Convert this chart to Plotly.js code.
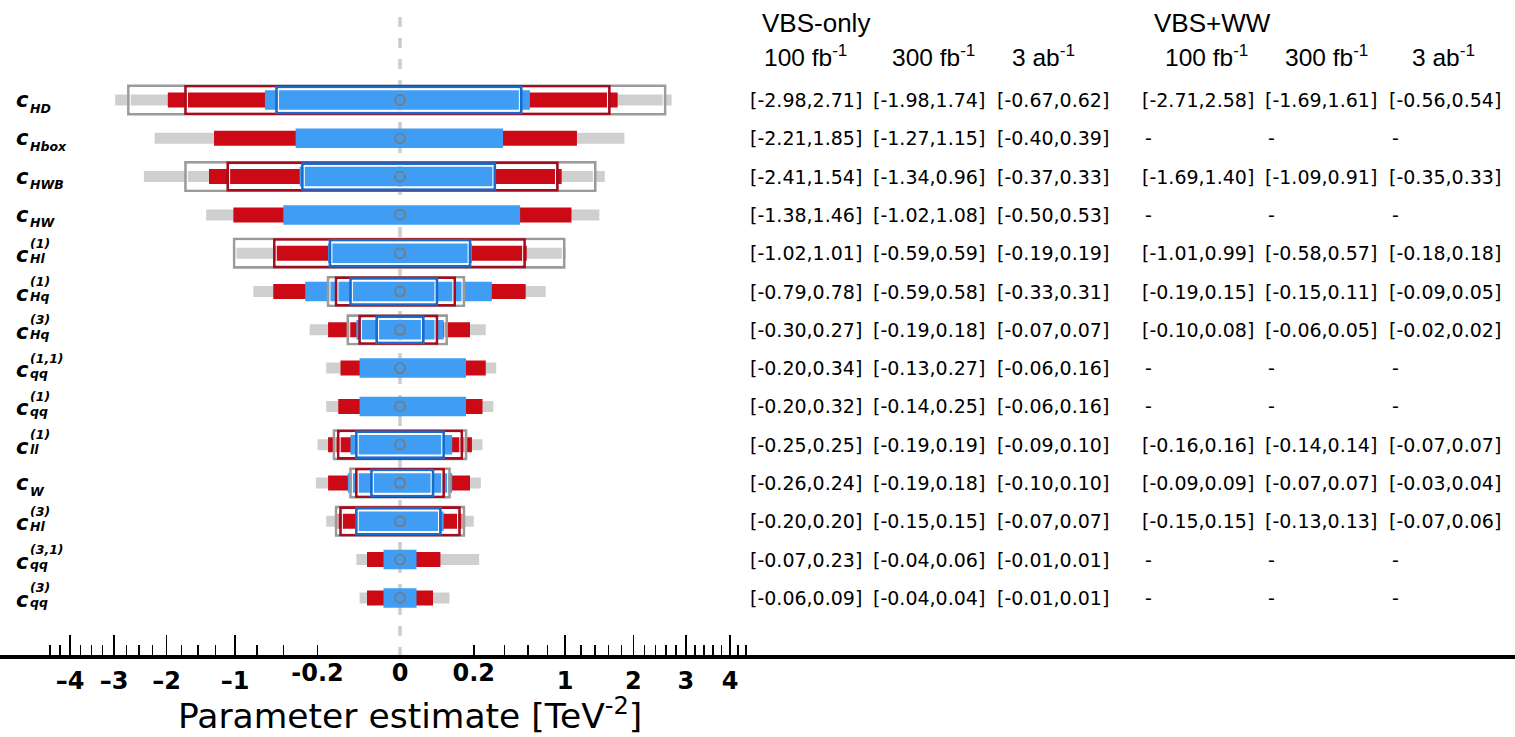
<!DOCTYPE html>
<html><head><meta charset="utf-8">
<script src="https://cdn.plot.ly/plotly-3.0.1.min.js"></script>
<style>html,body{margin:0;padding:0;background:#fff}#chart{width:1515px;height:737px}</style>
</head><body><div id="chart"></div>
<script>
// ---- data ----
const coefSub = ['HD','Hbox','HWB','HW','Hl','Hq','Hq','qq','qq','ll','W','Hl','qq','qq'];
const coefSup = ['','','','','(1)','(1)','(3)','(1,1)','(1)','(1)','','(3)','(3,1)','(3)'];
const vbsLo100  = [-2.98,-2.21,-2.41,-1.38,-1.02,-0.79,-0.30,-0.20,-0.20,-0.25,-0.26,-0.20,-0.07,-0.06];
const vbsHi100  = [2.71,1.85,1.54,1.46,1.01,0.78,0.27,0.34,0.32,0.25,0.24,0.20,0.23,0.09];
const vbsLo300  = [-1.98,-1.27,-1.34,-1.02,-0.59,-0.59,-0.19,-0.13,-0.14,-0.19,-0.19,-0.15,-0.04,-0.04];
const vbsHi300  = [1.74,1.15,0.96,1.08,0.59,0.58,0.18,0.27,0.25,0.19,0.18,0.15,0.06,0.04];
const vbsLo3000 = [-0.67,-0.40,-0.37,-0.50,-0.19,-0.33,-0.07,-0.06,-0.06,-0.09,-0.10,-0.07,-0.01,-0.01];
const vbsHi3000 = [0.62,0.39,0.33,0.53,0.19,0.31,0.07,0.16,0.16,0.10,0.10,0.07,0.01,0.01];
const wwLo100  = [-2.71,null,-1.69,null,-1.01,-0.19,-0.10,null,null,-0.16,-0.09,-0.15,null,null];
const wwHi100  = [2.58,null,1.40,null,0.99,0.15,0.08,null,null,0.16,0.09,0.15,null,null];
const wwLo300  = [-1.69,null,-1.09,null,-0.58,-0.15,-0.06,null,null,-0.14,-0.07,-0.13,null,null];
const wwHi300  = [1.61,null,0.91,null,0.57,0.11,0.05,null,null,0.14,0.07,0.13,null,null];
const wwLo3000 = [-0.56,null,-0.35,null,-0.18,-0.09,-0.02,null,null,-0.07,-0.03,-0.07,null,null];
const wwHi3000 = [0.54,null,0.33,null,0.18,0.05,0.02,null,null,0.07,0.04,0.06,null,null];
const bestFit = [0,0,0,0,0,0,0,0,0,0,0,0,0,0];
const scenarioLabels = ['VBS-only','VBS+WW'];
const lumiLabels = ['100 fb<sup>-1</sup>','300 fb<sup>-1</sup>','3 ab<sup>-1</sup>'];
const majorTickVals = [-4,-3,-2,-1,1,2,3,4];
const majorTickText = ['\u20134','\u20133','\u20132','\u20131','1','2','3','4'];
const innerTickVals = [-0.25,0,0.2];
const innerTickText = ['-0.2','0','0.2'];
const minorTickVals = [-4.5,-4.25,-3.75,-3.5,-3.25,-2.75,-2.5,-2.25,-1.75,-1.5,-1.25,-0.75,-0.5,-0.25,
  0.2,0.4,0.6,0.8,1.2,1.4,1.6,1.8,2.2,2.4,2.6,2.8,3.2,3.4,3.6,3.8,4.2,4.4];
const axisTitle = 'Parameter estimate [TeV<sup>-2</sup>]';

// ---- style / geometry ----
const W = 1515, H = 737, MB = 82, PH = H - MB;
const X0PX = 400, PXU = 165, ROWPX = 38.3, ROW0PX = 100;
const rows = coefSub.map((_, i) => i);
const sq = v => (v == null ? null : Math.sign(v) * Math.sqrt(Math.abs(v)));
const C = {grayF:'#cfcfcf', redF:'#cc0a16', blueF:'#3f9df4', grayL:'#9b9b9b', redL:'#a30d1d', blueL:'#1a6acc'};
const hpx = p => p / ROWPX;

function bars(lo, hi, hPx, fill, lineColor, lw, insetPx) {
  const d = insetPx / PXU;
  return {
    type:'bar', orientation:'h', y: rows,
    base: lo.map(v => v == null ? null : sq(v) + d),
    x: lo.map((v, i) => v == null ? null : sq(hi[i]) - sq(v) - 2 * d),
    width: hpx(hPx),
    marker: {color: fill, line: {color: lineColor, width: lw}},
    hoverinfo: 'skip', showlegend: false
  };
}
const LW = 2.6, IN = 1.9;
const data = [
  bars(vbsLo100, vbsHi100, 11, C.grayF, C.grayF, 0, 0),
  bars(vbsLo300, vbsHi300, 15, C.redF, C.redF, 0, 0),
  bars(vbsLo3000, vbsHi3000, 19.5, C.blueF, C.blueF, 0, 0),
  bars(wwLo100, wwHi100, 28.4, 'rgba(0,0,0,0)', C.grayL, LW, 0),
  bars(wwLo100, wwHi100, 28.4 - 2*IN, 'rgba(0,0,0,0)', '#ffffff', 1, IN),
  bars(wwLo300, wwHi300, 27.4, 'rgba(0,0,0,0)', C.redL, LW, 0),
  bars(wwLo300, wwHi300, 27.4 - 2*IN, 'rgba(0,0,0,0)', '#ffffff', 1, IN),
  bars(wwLo3000, wwHi3000, 25.9, 'rgba(0,0,0,0)', C.blueL, LW, 0),
  bars(wwLo3000, wwHi3000, 25.9 - 2*IN, 'rgba(0,0,0,0)', '#ffffff', 1, IN),
  {type:'scatter', mode:'markers', x: bestFit.map(sq), y: rows, xaxis:'x2', yaxis:'y',
   marker:{symbol:'circle-open', size:10, color:'#7a7a7a', line:{width:1.8, color:'#7a7a7a'}},
   hoverinfo:'skip', showlegend:false}
];

const xr = [-X0PX / PXU, (W - X0PX) / PXU];
const yr = [(PH - ROW0PX) / ROWPX, -ROW0PX / ROWPX];
const tickFont = {family:'DejaVu Sans', size:24, weight:'bold', color:'#000'};

const ann = [];
const px = p => p / W;
const py = p => (PH - p) / PH;
// row labels
rows.forEach(i => {
  const hasSup = coefSup[i] !== '';
  ann.push({text:'c', xref:'paper', x:px(14), xanchor:'left', yref:'y', y:i, yanchor:'middle',
    yshift: hasSup ? -2 : 0, showarrow:false,
    font:{family:'DejaVu Sans', size:21, weight:'bold', style:'italic', color:'#000'}});
  ann.push({text:coefSub[i], xref:'paper', x:px(27.5), xanchor:'left', yref:'y', y:i, yanchor:'middle',
    yshift: hasSup ? -5 : -8, showarrow:false,
    font:{family:'DejaVu Sans', size:12.5, weight:'bold', style:'italic', color:'#000'}});
  if (hasSup) ann.push({text:coefSup[i], xref:'paper', x:px(28), xanchor:'left', yref:'y', y:i, yanchor:'middle',
    yshift: 10, showarrow:false,
    font:{family:'DejaVu Sans', size:12.5, weight:'bold', style:'italic', color:'#000'}});
});
// table
const valFont = {family:'DejaVu Sans', size:19, color:'#000'};
const hdrFont = {family:'Liberation Sans, Arial, sans-serif', size:26, color:'#000'};
const subFont = {family:'Liberation Sans, Arial, sans-serif', size:24.5, color:'#000'};
const vbsCols = [748, 871, 995], wwCols = [1140, 1263, 1387];
const vbsSets = [[vbsLo100, vbsHi100],[vbsLo300, vbsHi300],[vbsLo3000, vbsHi3000]];
const wwSets = [[wwLo100, wwHi100],[wwLo300, wwHi300],[wwLo3000, wwHi3000]];
const fmt = (lo, hi) => lo == null ? '-' : '[' + lo.toFixed(2) + ',' + hi.toFixed(2) + ']';
[[vbsSets, vbsCols],[wwSets, wwCols]].forEach(([sets, cols]) => {
  sets.forEach(([lo, hi], c) => {
    rows.forEach(i => {
      ann.push({text: fmt(lo[i], hi[i]), xref:'paper', x: px(cols[c] + (lo[i] == null ? 3 : 0)), xanchor:'left',
        yref:'y', y:i, yanchor:'middle', showarrow:false, font: valFont});
    });
  });
});
const hdrX = [760, 1152];
scenarioLabels.forEach((t, k) => ann.push({text:t, xref:'paper', x:px(hdrX[k]), xanchor:'left',
  yref:'paper', y:py(23), yanchor:'middle', showarrow:false, font:hdrFont}));
const subX = [[762, 890, 1010],[1163, 1283, 1410]];
subX.forEach(xs => xs.forEach((x, c) => ann.push({text:lumiLabels[c], xref:'paper', x:px(x), xanchor:'left',
  yref:'paper', y:py(55), yanchor:'middle', showarrow:false, font:subFont})));
ann.push({text:axisTitle, xref:'paper', x:px(410), xanchor:'center', yref:'paper', y:py(714), yanchor:'middle',
  showarrow:false, font:{family:'DejaVu Sans', size:34.5, color:'#000'}});

const layout = {
  width:W, height:H, margin:{l:0, r:0, t:0, b:MB, pad:0},
  paper_bgcolor:'#fff', plot_bgcolor:'#fff', barmode:'overlay', showlegend:false,
  xaxis:{domain:[0,1], range:xr, tickmode:'array', tickvals:majorTickVals.map(sq), ticktext:majorTickText,
    ticks:'inside', ticklen:20, tickwidth:1.5, tickcolor:'#000', showline:true, linewidth:4, linecolor:'#000',
    showgrid:false, zeroline:false, tickfont:tickFont, ticklabelstandoff:1,
    minor:{tickmode:'array', tickvals:minorTickVals.map(sq), ticks:'inside', ticklen:10, tickwidth:1.5, tickcolor:'#000', showgrid:false}},
  xaxis2:{overlaying:'x', anchor:'y', side:'bottom', range:xr, tickmode:'array', tickvals:innerTickVals.map(sq),
    ticktext:innerTickText, ticks:'', showline:false, showgrid:false, zeroline:false, tickfont:tickFont, ticklabelstandoff:1},
  yaxis:{range:yr, visible:false, showgrid:false, zeroline:false},
  shapes:[{type:'line', xref:'x', x0:0, x1:0, yref:'paper', y0:py(17), y1:0, layer:'below',
    line:{color:'#cdcdcd', width:3.5, dash:'10px,11px'}}],
  annotations: ann
};
Plotly.newPlot('chart', data, layout, {staticPlot:true, displayModeBar:false});
</script></body></html>
